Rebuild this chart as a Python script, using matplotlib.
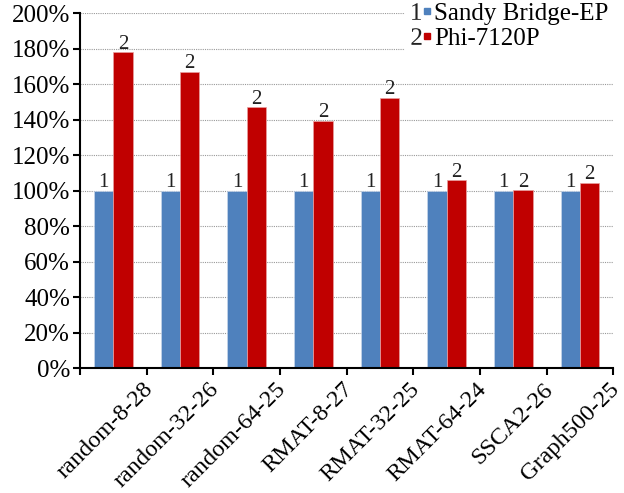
import numpy as np
import matplotlib.pyplot as plt
from matplotlib.lines import Line2D
from matplotlib.legend_handler import HandlerTuple
from matplotlib.ticker import PercentFormatter
from matplotlib.transforms import ScaledTranslation

plt.rcParams['font.family'] = 'Liberation Serif'
plt.rcParams['mathtext.fontset'] = 'custom'
plt.rcParams['mathtext.rm'] = 'Liberation Serif'

cats = ['random-8-28', 'random-32-26', 'random-64-25', 'RMAT-8-27',
        'RMAT-32-25', 'RMAT-64-24', 'SSCA2-26', 'Graph500-25']
sandy = [100, 100, 100, 100, 100, 100, 100, 100]
phi = [178, 167, 147, 139.5, 152.5, 106, 100.3, 104.4]

blue = '#4f81bd'
red = '#c00000'

fig = plt.figure(figsize=(6.24, 4.93), dpi=100)
ax = fig.add_axes([0.128, 0.253, 0.855, 0.72])

x = np.arange(len(cats))
w = 0.29
b1 = ax.bar(x - w/2, sandy, w, color=blue, edgecolor='#c8d6ea', linewidth=0.5, zorder=2)
b2 = ax.bar(x + w/2, phi, w, color=red, edgecolor='#e8a0a0', linewidth=0.5, zorder=2)
ax.bar_label(b1, labels=['1']*len(cats), fontsize=15, padding=-1, color='#222222')
ax.bar_label(b2, labels=['2']*len(cats), fontsize=15, padding=-1, color='#222222')

ax.set_xlim(-0.5, len(cats) - 0.5)
ax.set_ylim(0, 200)
ax.set_yticks(np.arange(0, 201, 20))
ax.yaxis.set_major_formatter(PercentFormatter(decimals=0))
ax.grid(axis='y', color='#999999', linestyle=(0, (1, 1)), linewidth=0.8, zorder=0)

ax.set_xticks(np.arange(-0.5, len(cats), 1.0))
ax.set_xticklabels([''] + cats, rotation=45, ha='right', va='center',
                   rotation_mode='anchor', fontsize=17.5)
ax.tick_params(axis='both', direction='out', width=1.5, length=5)
ax.tick_params(axis='y', labelsize=18, pad=2)
ax.tick_params(axis='x', pad=8)
shift = ScaledTranslation(3/100, 0, fig.dpi_scale_trans)
for lab in ax.get_xticklabels():
    lab.set_transform(lab.get_transform() + shift)

for s in ['top', 'right']:
    ax.spines[s].set_visible(False)
for s in ['left', 'bottom']:
    ax.spines[s].set_linewidth(1.5)

h1 = (Line2D([], [], marker=r'$\mathrm{1}$', color='#222222', ls='', markersize=12, mew=0),
      Line2D([], [], marker='s', color=blue, ls='', markersize=4))
h2 = (Line2D([], [], marker=r'$\mathrm{2}$', color='#222222', ls='', markersize=12, mew=0),
      Line2D([], [], marker='s', color=red, ls='', markersize=4))
leg = ax.legend([h1, h2], ['Sandy Bridge-EP', 'Phi-7120P'],
                handler_map={tuple: HandlerTuple(ndivide=None, pad=0.05)},
                loc='upper right', bbox_to_anchor=(1.0, 1.045), fontsize=18,
                frameon=True, framealpha=1, edgecolor='white', fancybox=False,
                handlelength=0.9, handletextpad=0.05, labelspacing=0.1,
                borderpad=0.2, borderaxespad=0)
leg.set_zorder(5)

plt.savefig('out.png', dpi=100)
